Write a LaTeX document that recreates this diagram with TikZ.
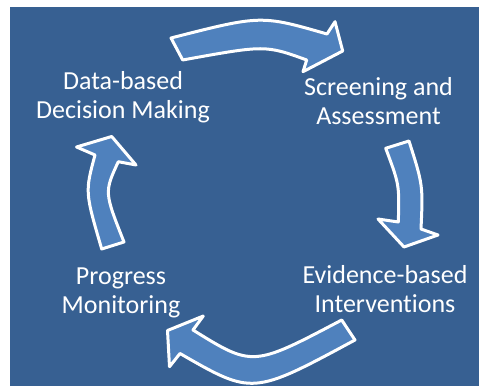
\documentclass[tikz,border=0pt]{standalone}
\usepackage{fontspec}
\setmainfont{Carlito}[Ligatures={NoCommon}]
\definecolor{bgblue}{RGB}{55,96,146}
\definecolor{arrowblue}{RGB}{79,129,189}
\begin{document}
\begin{tikzpicture}[x=1pt,y=-1pt,
  cyclearrow/.style={fill=arrowblue,draw=white,line width=3pt,line join=round},
  label/.style={text=white,align=center,inner sep=0pt,font=\fontsize{26}{29}\selectfont}]
\useasboundingbox (0,0) rectangle (479,387);
\fill[white] (0,0) rectangle (479,387);
\fill[bgblue] (10,7.5) rectangle (479,386);
% top arrow
\draw[cyclearrow] (171,38) .. controls (261,15) .. (327,34) -- (335,21.7) -- (342.7,51) -- (303,71.7) -- (306.7,60) .. controls (265.3,45) .. (182.7,60) -- cycle;
% right arrow
\draw[cyclearrow] (409,141) .. controls (423,185) .. (421,229) -- (438,235) -- (404,247) -- (378,219) -- (398.3,222) .. controls (399.4,184.8) .. (385.7,148.3) -- cycle;
% bottom arrow
\draw[cyclearrow] (341.7,320) .. controls (252.65,367) .. (193,330) -- (203.3,316) -- (167.5,330.5) -- (169.5,366.7) -- (180,353.5) .. controls (252.5,395.25) .. (355,340) -- cycle;
% left arrow
\draw[cyclearrow] (101.7,249) .. controls (85,192) .. (95,155) -- (76.5,147) -- (111.7,136.5) -- (136,165) -- (118.3,161.7) .. controls (104.25,192.15) .. (124,242) -- cycle;
% labels
\node[label] (dbdm) at (123,97) {Data-based\\Decision Making};
\node[label] (sa) at (378.5,101.5) {Screening and\\Assessment};
\node[label] (ebi) at (385,289.5) {Evidence-based\\Interventions};
\node[label] (pm) at (121,292.7) {Progress\\Monitoring};
\end{tikzpicture}
\end{document}
